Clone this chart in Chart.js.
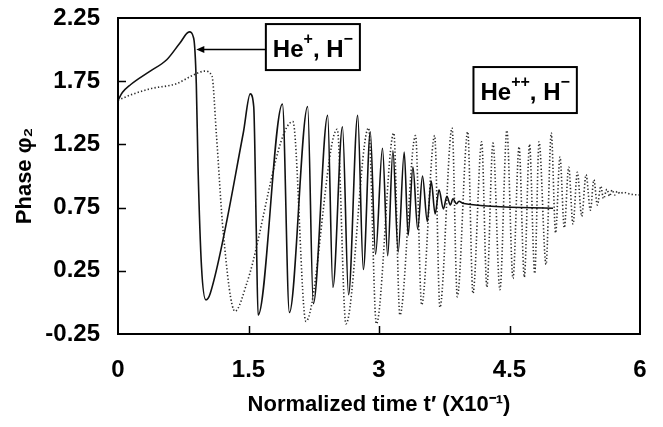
<!DOCTYPE html>
<html>
<head>
<meta charset="utf-8">
<script src="https://cdn.jsdelivr.net/npm/chart.js@4.4.0/dist/chart.umd.min.js"></script>
<style>
  html, body { margin: 0; padding: 0; background: #fff; }
</style>
</head>
<body>
<canvas id="phase-chart" width="663" height="427"></canvas>
<script>
// He+, H- (solid line): normalized time and phase
const solidTime = [0, 0.05, 0.14, 0.37, 0.56, 0.71, 0.82, 0.87, 0.90, 0.92,
  0.96, 1.01, 1.06, 1.44, 1.52, 1.56, 1.59, 1.61, 1.89, 1.97,
  2.18, 2.245, 2.41, 2.47, 2.58, 2.65, 2.755, 2.82, 2.90, 2.96,
  3.04, 3.10, 3.16, 3.22, 3.29, 3.335, 3.39, 3.445, 3.50, 3.555,
  3.60, 3.645, 3.69, 3.74, 3.78, 3.82, 3.85, 3.89, 3.92, 3.96, 5.0];
const solidPhase = [1.60, 1.66, 1.72, 1.83, 1.92, 2.05, 2.14, 2.09, 1.73, 1.07,
  0.28, 0.02, 0.07, 1.34, 1.65, 1.55, 0.55, -0.10, 1.57, -0.08,
  1.55, -0.01, 1.48, 0.12, 1.39, 0.06, 1.48, 0.26, 1.35, 0.38,
  1.22, 0.37, 1.20, 0.40, 1.19, 0.53, 1.07, 0.58, 1.00, 0.64,
  0.96, 0.70, 0.89, 0.74, 0.84, 0.77, 0.82, 0.78, 0.80, 0.785, 0.745];

// He++, H- (dotted line)
const dottedTime = [0, 0.14, 0.37, 0.67, 0.87, 1.00, 1.08, 1.13, 1.21, 1.345,
  1.48, 2.01, 2.16, 2.52, 2.62, 2.88, 2.97, 3.17, 3.24, 3.42,
  3.49, 3.64, 3.70, 3.84, 3.90, 4.02, 4.08, 4.18, 4.24, 4.31,
  4.39, 4.47, 4.54, 4.61, 4.67, 4.73, 4.79, 4.84, 4.92, 4.98,
  5.03, 5.08, 5.13, 5.18, 5.23, 5.28, 5.33, 5.38, 5.43, 5.47,
  5.51, 5.55, 5.58, 5.62, 5.65, 5.68, 5.71, 5.74, 5.77, 5.81, 5.90, 6.0];
const dottedPhase = [1.60, 1.64, 1.69, 1.73, 1.80, 1.83, 1.79, 1.34, 0.55, -0.07,
  0.15, 1.43, -0.15, 1.37, -0.17, 1.38, -0.17, 1.34, -0.10, 1.32,
  -0.02, 1.32, -0.04, 1.38, 0.045, 1.35, 0.07, 1.27, 0.12, 1.26,
  0.10, 1.36, 0.19, 1.23, 0.20, 1.25, 0.23, 1.27, 0.30, 1.34,
  0.55, 1.15, 0.59, 1.07, 0.62, 1.03, 0.68, 1.01, 0.73, 0.97,
  0.77, 0.92, 0.82, 0.895, 0.84, 0.89, 0.85, 0.88, 0.86, 0.87, 0.855, 0.85];

// Axis ticks
const xTickValues = [0, 1.5, 3, 4.5, 6];
const xTickLabels = ['0', '1.5', '3', '4.5', '6'];
const yTickValues = [-0.25, 0.25, 0.75, 1.25, 1.75, 2.25];
const yTickLabels = ['-0.25', '0.25', '0.75', '1.25', '1.75', '2.25'];

const FONT = '"Liberation Sans", Arial, Helvetica, sans-serif';

function toPoints(xs, ys) {
  return xs.map((x, i) => ({ x: x, y: ys[i] }));
}

// draws a boxed label like "He+, H-" with raised superscripts
function drawTag(ctx, cx, cy, parts) {
  const big = 'bold 24px ' + FONT;
  const small = 'bold 16px ' + FONT;
  let total = 0;
  parts.forEach(p => {
    ctx.font = p.sup ? small : big;
    p.w = ctx.measureText(p.text).width;
    total += p.w;
  });
  const boxW = total + 14;
  const boxH = 46;
  ctx.lineWidth = 2;
  ctx.strokeStyle = '#000';
  ctx.fillStyle = '#fff';
  ctx.fillRect(cx - boxW / 2, cy - boxH / 2, boxW, boxH);
  ctx.strokeRect(cx - boxW / 2, cy - boxH / 2, boxW, boxH);
  ctx.fillStyle = '#000';
  ctx.textBaseline = 'alphabetic';
  ctx.textAlign = 'left';
  let x = cx - total / 2;
  parts.forEach(p => {
    ctx.font = p.sup ? small : big;
    ctx.fillText(p.text, x, p.sup ? cy - 3 : cy + 10);
    x += p.w;
  });
  return { left: cx - boxW / 2 };
}

const framePlugin = {
  id: 'framePlugin',
  afterDatasetsDraw(chart) {
    const { ctx, chartArea: a, scales } = chart;
    const xs = scales.x, ys = scales.y;
    ctx.save();
    ctx.strokeStyle = '#000';
    ctx.lineWidth = 2;
    ctx.strokeRect(a.left, a.top, a.right - a.left, a.bottom - a.top);

    // inward tick marks
    ctx.lineWidth = 1.5;
    ctx.beginPath();
    yTickValues.slice(1, -1).forEach(v => {
      const py = Math.round(ys.getPixelForValue(v)) + 0.5;
      ctx.moveTo(a.left, py);
      ctx.lineTo(a.left + 8, py);
    });
    xTickValues.slice(1, -1).forEach(v => {
      const px = Math.round(xs.getPixelForValue(v)) + 0.5;
      ctx.moveTo(px, a.bottom);
      ctx.lineTo(px, a.bottom - 8);
    });
    ctx.stroke();

    // He+, H- label with arrow to the solid curve
    const t1 = drawTag(ctx, xs.getPixelForValue(2.24), ys.getPixelForValue(2.02), [
      { text: 'He' }, { text: '+', sup: true }, { text: ', H' }, { text: '\u2212', sup: true }
    ]);
    const ay = ys.getPixelForValue(2.0);
    const tipX = xs.getPixelForValue(0.9);
    ctx.lineWidth = 1.5;
    ctx.beginPath();
    ctx.moveTo(t1.left, ay);
    ctx.lineTo(tipX + 6, ay);
    ctx.stroke();
    ctx.beginPath();
    ctx.moveTo(tipX, ay);
    ctx.lineTo(tipX + 8, ay - 3.5);
    ctx.lineTo(tipX + 8, ay + 3.5);
    ctx.closePath();
    ctx.fill();

    drawTag(ctx, xs.getPixelForValue(4.68), ys.getPixelForValue(1.68), [
      { text: 'He' }, { text: '++', sup: true }, { text: ', H' }, { text: '\u2212', sup: true }
    ]);
    ctx.restore();
  }
};

const ctx = document.getElementById('phase-chart').getContext('2d');
const chart = new Chart(ctx, {
  type: 'line',
  data: {
    datasets: [{
      label: 'He+, H-',
      data: toPoints(solidTime, solidPhase),
      borderColor: '#111',
      borderWidth: 1.6,
      pointRadius: 0,
      cubicInterpolationMode: 'monotone',
      fill: false
    }, {
      label: 'He++, H-',
      data: toPoints(dottedTime, dottedPhase),
      borderColor: '#2a2a2a',
      borderWidth: 1.6,
      borderDash: [1.3, 2.2],
      pointRadius: 0,
      cubicInterpolationMode: 'monotone',
      fill: false
    }]
  },
  options: {
    responsive: false,
    animation: false,
    devicePixelRatio: 1,
    layout: { padding: { top: 18, right: 23, bottom: 0, left: 0 } },
    plugins: {
      legend: { display: false },
      tooltip: { enabled: false }
    },
    scales: {
      x: {
        type: 'linear',
        min: 0,
        max: 6,
        afterBuildTicks: s => { s.ticks = xTickValues.map(v => ({ value: v })); },
        afterFit: s => { s.height = 93; s.paddingLeft = 0; s.paddingRight = 0; },
        grid: { display: false, drawTicks: false },
        border: { display: false },
        ticks: {
          padding: 22,
          color: '#000',
          font: { family: FONT, size: 24, weight: 'bold' },
          maxRotation: 0,
          callback: (v) => xTickLabels[xTickValues.indexOf(v)]
        },
        title: {
          display: true,
          text: 'Normalized time t\u2032 (X10\u207B\u00B9)',
          color: '#000',
          font: { family: FONT, size: 22, weight: 'bold' },
          padding: { top: 0, bottom: 9 }
        }
      },
      y: {
        min: -0.25,
        max: 2.25,
        afterBuildTicks: s => { s.ticks = yTickValues.map(v => ({ value: v })); },
        afterFit: s => { s.width = 118; s.paddingTop = 0; s.paddingBottom = 0; },
        grid: { display: false, drawTicks: false },
        border: { display: false },
        ticks: {
          padding: 18,
          color: '#000',
          font: { family: FONT, size: 24, weight: 'bold' },
          callback: (v) => yTickLabels[yTickValues.indexOf(v)]
        },
        title: {
          display: true,
          text: 'Phase \u03C6\u2082',
          color: '#000',
          font: { family: FONT, size: 22, weight: 'bold' },
          padding: { top: 12, bottom: 0 }
        }
      }
    }
  },
  plugins: [framePlugin]
});
</script>
</body>
</html>
